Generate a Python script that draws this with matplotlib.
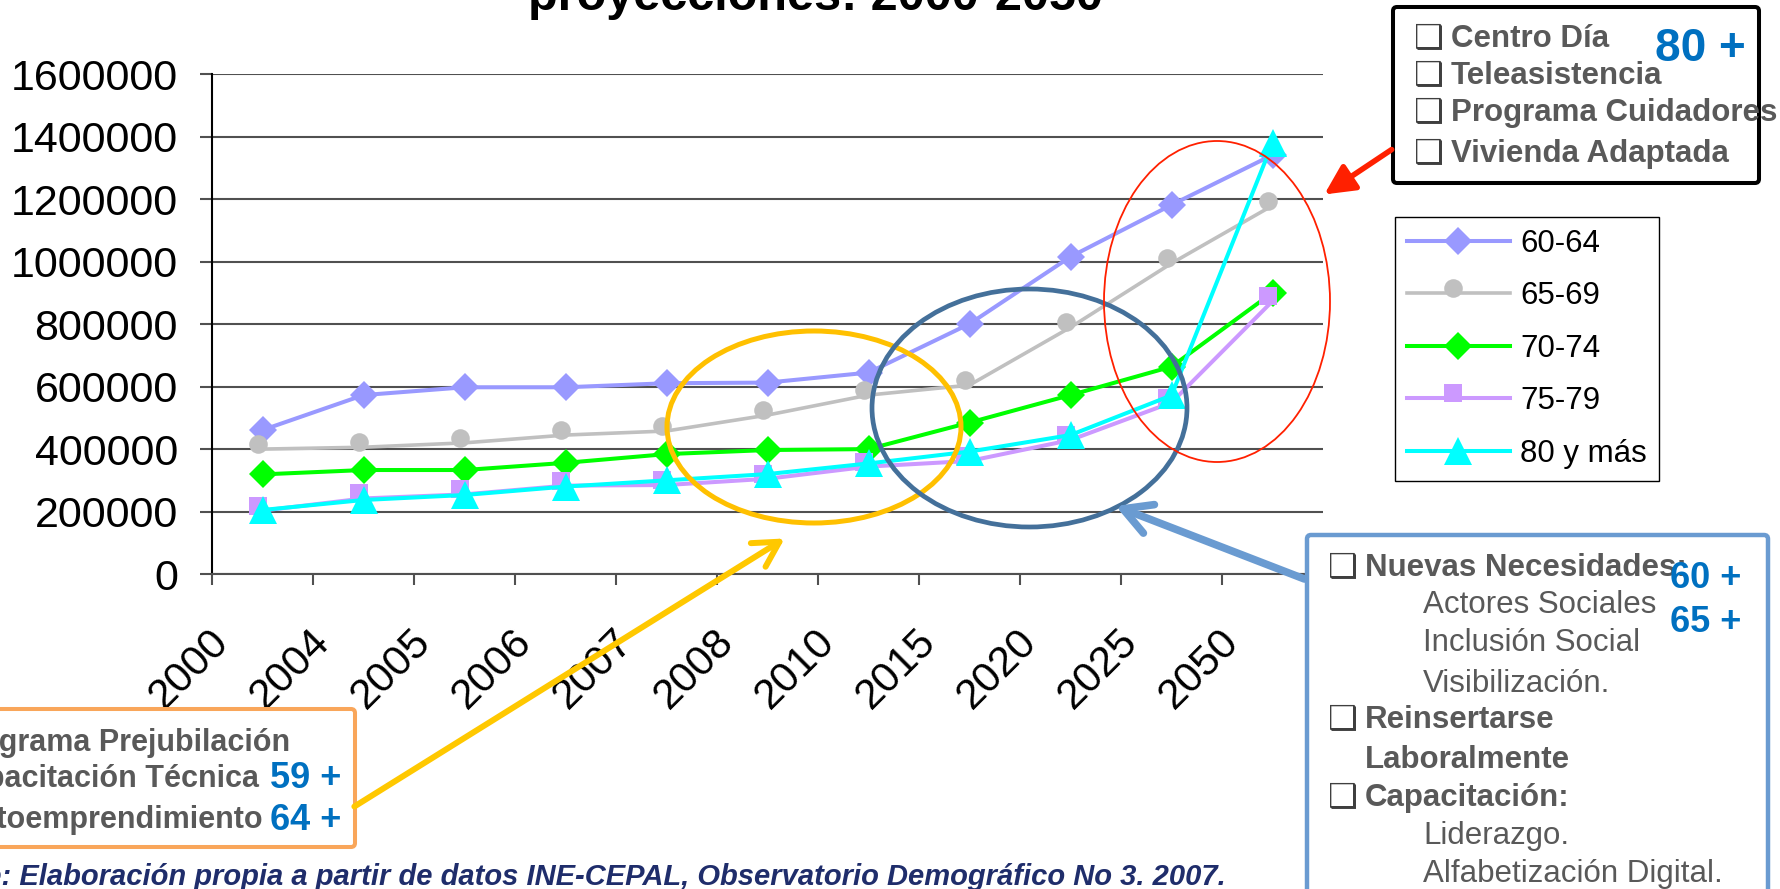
import matplotlib.pyplot as plt
import matplotlib.transforms as mtransforms
from matplotlib.patches import Ellipse, FancyArrowPatch, FancyBboxPatch
from matplotlib.path import Path
import numpy as np

# datos
years = ["2000", "2004", "2005", "2006", "2007", "2008", "2010", "2015", "2020", "2025", "2050"]
edad_60_64 = [461000, 573000, 598000, 598000, 611000, 613000, 645000, 801000, 1016000, 1182000, 1342000]
edad_65_69 = [400000, 406000, 420000, 445000, 458000, 509000, 573000, 605000, 790000, 995000, 1180000]
edad_70_74 = [319000, 333000, 333000, 356000, 384000, 397000, 400000, 485000, 573000, 664000, 901000]
edad_75_79 = [203000, 242000, 255000, 283000, 285000, 305000, 344000, 362000, 429000, 549000, 874000]
edad_80_mas = [205000, 237000, 253000, 280000, 300000, 320000, 354000, 392000, 445000, 572000, 1380000]
series_names = ["60-64", "65-69", "70-74", "75-79", "80 y más"]
y_ticks = [0, 200000, 400000, 600000, 800000, 1000000, 1200000, 1400000, 1600000]

W, H = 1780, 889
plt.rcParams["font.family"] = ["Liberation Sans", "DejaVu Sans"]
fig = plt.figure(figsize=(W / 100, H / 100), dpi=100)
# coordenadas en pixeles de la imagen (origen arriba a la izquierda)
px = mtransforms.Affine2D().scale(1 / W, -1 / H).translate(0, 1) + fig.transFigure

ax = fig.add_axes([212 / W, 1 - 574 / H, (1323 - 212) / W, (574 - 74.4) / H])
x = np.arange(len(years))

# marcadores desplazados arriba-izquierda (como en Excel)
circ = Path.circle(center=(-5, 5), radius=9.3)
sq = Path([(-14, -4), (4, -4), (4, 14), (-14, 14), (-14, -4)], closed=True)

ax.plot(x, edad_60_64, color="#9999FF", lw=2.9, marker="D", ms=14.5, mew=0, label=series_names[0])
ax.plot(x, edad_65_69, color="#C0C0C0", lw=2.6, marker=circ, ms=28.6 * 0.72, mew=0, label=series_names[1])
ax.plot(x, edad_70_74, color="#00FF00", lw=2.9, marker="D", ms=14.5, mew=0, label=series_names[2])
ax.plot(x, edad_75_79, color="#CC99FF", lw=2.9, marker=sq, ms=28 * 0.72, mew=0, label=series_names[3])
ax.plot(x, edad_80_mas, color="#00FFFF", lw=2.9, marker="^", ms=20, mew=0, label=series_names[4])

ax.set_xlim(-0.5, len(years) - 0.5)
ax.set_ylim(0, 1600000)
ax.set_yticks(y_ticks)
ax.set_yticklabels([str(v) for v in y_ticks])
ax.grid(axis="y", color="#505050", lw=1.5)
ax.set_axisbelow(True)
for s in ["top", "right"]:
    ax.spines[s].set_visible(False)
ax.spines["left"].set_color("black")
ax.spines["left"].set_linewidth(1.5)
ax.spines["bottom"].set_color("#505050")
ax.spines["bottom"].set_linewidth(1.5)
ax.tick_params(axis="y", length=8.6, width=1.5, color="#505050", pad=16, labelsize=31)

ax.set_xticks(x)
ax.set_xticklabels(years, rotation=45, ha="right", va="top")
ax.set_xticks(np.arange(-0.5, len(years)), minor=True)
ax.tick_params(axis="x", which="major", length=0, pad=34, labelsize=30.5)
ax.tick_params(axis="x", which="minor", length=8, width=1.5, color="#505050")
shift = mtransforms.ScaledTranslation(-0.26, 0, fig.dpi_scale_trans)
for lab in ax.get_xticklabels():
    lab.set_transform(lab.get_transform() + shift)

leg = ax.legend(loc="upper left", bbox_to_anchor=(1395 / W, 1 - 217 / H),
                bbox_transform=fig.transFigure, fancybox=False, edgecolor="black",
                framealpha=1, fontsize=22.5, handlelength=3.3, handletextpad=0.33,
                labelspacing=0.72, borderpad=0.38, borderaxespad=0)
leg.get_frame().set_linewidth(1.0)

# titulo (cortado arriba)
fig.text(815 / W, 1 - 10 / H, "proyecciones: 2000-2050", ha="center", va="baseline",
         fontsize=35, fontweight="bold")

# elipses
fig.add_artist(Ellipse((814, 427), 294, 192, transform=px, fill=False, ec="#FFC000", lw=3.6))
fig.add_artist(Ellipse((1029.5, 408), 315, 238, transform=px, fill=False, ec="#44709A", lw=3.4))
fig.add_artist(Ellipse((1217, 301.5), 226, 321, transform=px, fill=False, ec="#FF2000", lw=1.3))

# cajas de texto
gris = "#595959"
azul = "#0070C0"


def caja(x0, y0, x1, y1, color, lw):
    fig.add_artist(FancyBboxPatch((x0, y0), x1 - x0, y1 - y0, boxstyle="round,pad=0,rounding_size=4",
                                  transform=px, fc="white", ec=color, lw=lw, zorder=2))


def texto(xp, yp, s, **kw):
    kw.setdefault("va", "center")
    fig.text(xp / W, 1 - yp / H, s, zorder=4, **kw)


def casilla(xp, yp):
    texto(xp, yp, "❑", fontsize=24, color="#3F3F3F", family="DejaVu Sans", fontweight="bold")


caja(1393, 7, 1759, 183, "black", 2.9)
for yy, s in zip([39, 76, 113, 154], ["Centro Día", "Teleasistencia", "Programa Cuidadores", "Vivienda Adaptada"]):
    casilla(1414, yy)
    texto(1451, yy, s, fontsize=22.5, color=gris, fontweight="bold")
texto(1655, 49, "80 +", fontsize=33, color=azul, fontweight="bold")

caja(1307, 535, 1768, 940, "#6A9BD1", 3.2)
bloque = [(1330, 568, True, "Nuevas Necesidades:", True),
          (1423, 605, False, "Actores Sociales", False),
          (1423, 643, False, "Inclusión Social", False),
          (1423, 684, False, "Visibilización.", False),
          (1330, 720, True, "Reinsertarse", True),
          (1365, 760, False, "Laboralmente", True),
          (1330, 798, True, "Capacitación:", True),
          (1423, 836, False, "Liderazgo.", False),
          (1423, 874, False, "Alfabetización Digital.", False)]
for xx, yy, chk, s, neg in bloque:
    if chk:
        casilla(xx - 2, yy)
        xx = 1365
    texto(xx, yy, s, fontsize=22.5, color=gris, fontweight="bold" if neg else "normal")
texto(1670, 578, "60 +", fontsize=26, color=azul, fontweight="bold")
texto(1670, 622, "65 +", fontsize=26, color=azul, fontweight="bold")

caja(-30, 709, 355, 847, "#F9A65A", 2.9)
texto(290, 743, "❑ Programa Prejubilación", fontsize=22, color=gris, fontweight="bold", ha="right")
texto(259, 779, "❑ Capacitación Técnica", fontsize=22, color=gris, fontweight="bold", ha="right")
texto(263, 820, "❑ Autoemprendimiento", fontsize=22, color=gris, fontweight="bold", ha="right")
texto(270, 779, "59 +", fontsize=26, color=azul, fontweight="bold")
texto(270, 820, "64 +", fontsize=26, color=azul, fontweight="bold")

# flechas
fig.add_artist(FancyArrowPatch((1394, 148), (1322, 196), transform=px, arrowstyle="-|>,head_length=0.9,head_width=0.45",
                               mutation_scale=20, color="#FF2000", lw=4, zorder=3))
fig.add_artist(FancyArrowPatch((1307, 580), (1113, 505), transform=px, arrowstyle="->,head_length=1.0,head_width=0.55",
                               mutation_scale=20, color="#6A9BD1", lw=5.5, zorder=3))
fig.add_artist(FancyArrowPatch((352, 808), (787, 537), transform=px, arrowstyle="->,head_length=0.9,head_width=0.5",
                               mutation_scale=20, color="#FFC800", lw=4.3, zorder=3))

# fuente
texto(1226, 877, "Fuente: Elaboración propia a partir de datos INE-CEPAL, Observatorio Demográfico No 3. 2007.",
      fontsize=21, color="#1F2D6B", fontweight="bold", fontstyle="italic", ha="right")

fig.savefig("out.png", dpi=100)
